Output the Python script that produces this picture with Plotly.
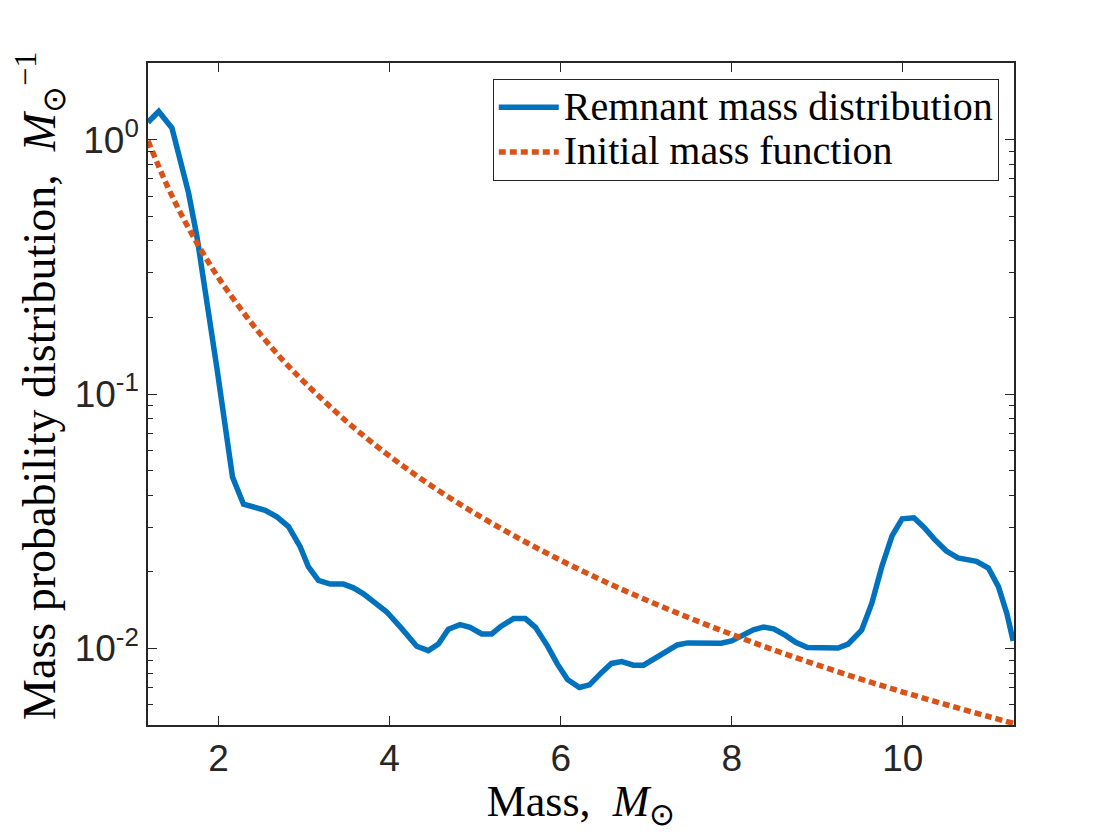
import plotly.graph_objects as go

# remnant mass distribution (blue)
remnant_mass = [1.175, 1.30, 1.455, 1.552, 1.649, 1.747, 1.806, 1.883, 1.98, 2.078,
                2.163, 2.292, 2.545, 2.682, 2.818, 2.954, 3.051, 3.168, 3.305, 3.460,
                3.577, 3.694, 3.830, 3.967, 4.142, 4.317, 4.453, 4.570, 4.687, 4.823,
                4.94, 5.077, 5.194, 5.30, 5.448, 5.587, 5.705, 5.843, 5.962, 6.080,
                6.219, 6.337, 6.476, 6.594, 6.713, 6.851, 6.969, 7.088, 7.226, 7.364,
                7.483, 7.740, 7.878, 7.997, 8.135, 8.253, 8.372, 8.490, 8.629, 8.747,
                8.885, 9.084, 9.242, 9.360, 9.518, 9.637, 9.755, 9.874, 9.992, 10.13,
                10.249, 10.368, 10.506, 10.644, 10.861, 11.0, 11.118, 11.217, 11.29]
remnant_pdf = [1.17, 1.29, 1.11, 0.834, 0.617, 0.416, 0.317, 0.208, 0.127, 0.0722,
               0.0472, 0.0369, 0.0349, 0.0329, 0.0301, 0.0251, 0.0209, 0.0185, 0.0179, 0.0179,
               0.0173, 0.0164, 0.0152, 0.0139, 0.01196, 0.0102, 0.0098, 0.0104, 0.0119, 0.0124,
               0.0121, 0.0114, 0.0114, 0.0122, 0.0131, 0.0131, 0.0121, 0.01026, 0.00867, 0.00754,
               0.00702, 0.00719, 0.00803, 0.00873, 0.00888, 0.00859, 0.00859, 0.00908, 0.0098, 0.01032,
               0.01051, 0.01046, 0.01048, 0.01071, 0.01125, 0.01184, 0.01213, 0.01194, 0.01125, 0.01057,
               0.01009, 0.01004, 0.01004, 0.0104, 0.0118, 0.01503, 0.021, 0.0277, 0.0323, 0.0326,
               0.0299, 0.0269, 0.0242, 0.0227, 0.022, 0.0207, 0.0175, 0.0137, 0.0107]

# initial mass function (orange dotted)
imf_mass = [1.175, 1.4, 1.6, 1.8, 2.0, 2.25, 2.5, 2.75, 3.0, 3.5, 4.0, 4.5, 5.0,
            5.5, 6.0, 6.5, 7.0, 7.5, 8.0, 8.5, 9.0, 9.5, 10.0, 10.5, 11.0, 11.29]
imf_pdf = [0.99, 0.658, 0.482, 0.366, 0.286, 0.218, 0.170, 0.136, 0.1115, 0.0778,
           0.0570, 0.0433, 0.0339, 0.0272, 0.0222, 0.0184, 0.0155, 0.0132, 0.01135,
           0.00984, 0.00861, 0.00759, 0.00674, 0.00602, 0.00540, 0.00508]

x_ticks = [2, 4, 6, 8, 10]
y_ticks = [1, 0.1, 0.01]
y_tick_text = ['10<sup>0</sup>', '10<sup>-1</sup>', '10<sup>-2</sup>']
y_minor = [m * 10.0 ** e for e in (-3, -2, -1, 0) for m in range(2, 10)]

serif = 'Liberation Serif, Times New Roman'
ink = '#262626'


def legend_name(s):
    # bigger text than the legend's own font, so rows stay as tight as MATLAB's
    return '<span style="font-size:40px">' + s + '</span>'


fig = go.Figure()
fig.add_trace(go.Scatter(x=remnant_mass, y=remnant_pdf, mode='lines',
                         name=legend_name('Remnant mass distribution'),
                         line=dict(color='#0072BD', width=5.5)))
fig.add_trace(go.Scatter(x=imf_mass, y=imf_pdf, mode='lines',
                         name=legend_name('Initial mass function'), line_shape='spline',
                         line=dict(color='#D95319', width=5.5, dash='7px,4px')))

axis_font = dict(family='Liberation Sans, Arial', size=37, color=ink)

fig.update_xaxes(range=[1.175, 11.3], tickvals=x_ticks, ticks='inside', ticklen=9,
                 tickcolor=ink, showline=True, linecolor=ink, linewidth=1.5,
                 mirror='allticks', showgrid=False, zeroline=False, tickfont=axis_font,
                 title=dict(text='Mass,  <i>M</i><sub>⊙</sub>', standoff=6,
                            font=dict(family=serif, size=44, color='black')))
fig.update_yaxes(type='log', range=[-2.301, 0.301], tickvals=y_ticks, ticktext=y_tick_text,
                 ticks='inside', ticklen=9, tickcolor=ink, showline=True,
                 linecolor=ink, linewidth=1.5, mirror='allticks', showgrid=False,
                 zeroline=False, tickfont=axis_font,
                 minor=dict(tickvals=y_minor, ticks='inside', ticklen=5, tickcolor=ink))

# y title as an annotation so it can sit where the reference has it
fig.add_annotation(text='Mass probability distribution,  <i>M</i><sub>⊙</sub><sup>−1</sup>',
                   textangle=-90, xref='paper', yref='paper', x=-0.126, y=0.512,
                   xanchor='center', yanchor='middle', showarrow=False,
                   font=dict(family=serif, size=46, color='black'))

fig.update_layout(width=1104, height=824, plot_bgcolor='white', paper_bgcolor='white',
                  margin=dict(l=140, r=98, t=55, b=107),
                  showlegend=True,
                  legend=dict(x=0.9824, y=0.9758, xanchor='right', yanchor='top',
                              bgcolor='white', bordercolor=ink, borderwidth=1,
                              font=dict(family=serif, size=32, color='black'),
                              itemwidth=60, tracegroupgap=0))

fig.write_html("out.html")
